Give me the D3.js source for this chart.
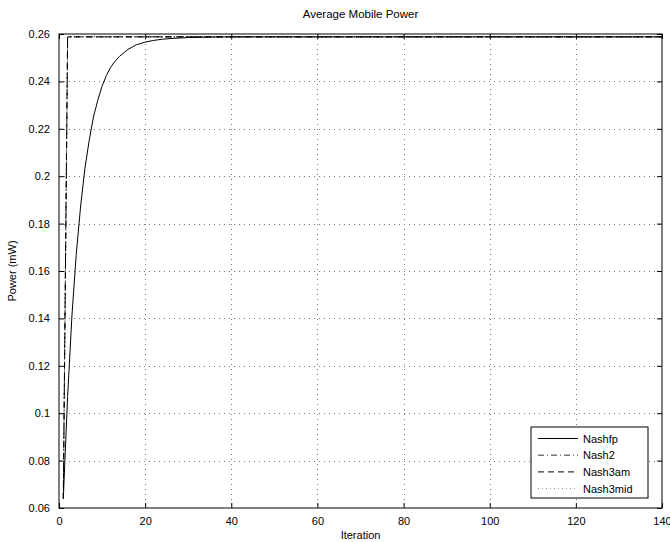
<!DOCTYPE html>
<html>
<head>
<meta charset="utf-8">
<script src="https://cdn.jsdelivr.net/npm/d3@7"></script>
<style>
  body { margin: 0; background: #fff; }
  text { font-family: "Liberation Sans", Arial, sans-serif; }
</style>
</head>
<body>
<div id="chart"></div>
<script>
// iterations and values
const fpIter  = [1, 2, 3, 4, 5, 6, 7, 8, 9, 10, 11, 12, 13, 14, 15, 16, 17, 18, 19, 20, 22, 24, 26, 28, 30, 35, 40, 140];
const fpPower = [0.064, 0.107, 0.141, 0.167, 0.187, 0.203, 0.215, 0.225, 0.232, 0.238, 0.2425, 0.246, 0.2485, 0.2505,
                 0.252, 0.2535, 0.2545, 0.2555, 0.256, 0.2566, 0.2573, 0.2578, 0.2581, 0.2583, 0.2585, 0.2587, 0.2588, 0.2588];
const n2Iter    = [1, 2, 140];
const n2Power   = [0.064, 0.2588, 0.2588];
const n3amIter  = [1, 2, 140];
const n3amPower = [0.064, 0.2588, 0.2588];
const n3midIter  = [1, 2, 140];
const n3midPower = [0.064, 0.2588, 0.2588];

const seriesNames = ['Nashfp', 'Nash2', 'Nash3am', 'Nash3mid'];
const xTicks = [0, 20, 40, 60, 80, 100, 120, 140];
const yTicks = [0.06, 0.08, 0.1, 0.12, 0.14, 0.16, 0.18, 0.2, 0.22, 0.24, 0.26];

const W = 670, H = 542;
const margin = {top: 34, right: 8, bottom: 34, left: 59};
const width = W - margin.left - margin.right;
const height = H - margin.top - margin.bottom;

const svg = d3.select('#chart').append('svg')
    .attr('width', W)
    .attr('height', H);

const g = svg.append('g')
    .attr('transform', `translate(${margin.left},${margin.top})`);

const x = d3.scaleLinear().domain([0, 140]).range([0, width]);
const y = d3.scaleLinear().domain([0.06, 0.26]).range([height, 0]);

// dotted grid
g.append('g').selectAll('line')
    .data(xTicks.slice(1, -1))
    .enter().append('line')
    .attr('x1', d => Math.round(x(d)) + 0.5).attr('x2', d => Math.round(x(d)) + 0.5)
    .attr('y1', 0).attr('y2', height)
    .attr('stroke', '#777').attr('stroke-width', 1)
    .attr('stroke-dasharray', '1,4');

g.append('g').selectAll('line')
    .data(yTicks.slice(1, -1))
    .enter().append('line')
    .attr('y1', d => Math.round(y(d)) + 0.5).attr('y2', d => Math.round(y(d)) + 0.5)
    .attr('x1', 0).attr('x2', width)
    .attr('stroke', '#777').attr('stroke-width', 1)
    .attr('stroke-dasharray', '1,4');

// axes, ticks inward
const fmt = d => String(+d.toFixed(2));
g.append('g')
    .attr('transform', `translate(0,${height})`)
    .call(d3.axisBottom(x).tickValues(xTicks).tickSize(-5).tickPadding(9).tickFormat(d3.format('d')));
g.append('g')
    .call(d3.axisTop(x).tickValues(xTicks).tickSize(-5).tickFormat(''));
g.append('g')
    .call(d3.axisLeft(y).tickValues(yTicks).tickSize(-5).tickPadding(9).tickFormat(fmt));
g.append('g')
    .attr('transform', `translate(${width},0)`)
    .call(d3.axisRight(y).tickValues(yTicks).tickSize(-5).tickFormat(''));

g.selectAll('.domain').remove();
g.selectAll('.tick line').attr('stroke', '#000');
g.selectAll('.tick text')
    .attr('fill', '#000')
    .style('font-size', '11px')
    .style('font-family', '"Liberation Sans", Arial, sans-serif');

g.append('rect')
    .attr('x', 0).attr('y', 0)
    .attr('width', width).attr('height', height)
    .attr('fill', 'none')
    .attr('stroke', '#000')
    .attr('stroke-width', 1);

// lines
const series = [
    {name: seriesNames[0], xs: fpIter, ys: fpPower, dash: null, color: '#000'},
    {name: seriesNames[1], xs: n2Iter, ys: n2Power, dash: '6,3,1,3', color: '#000'},
    {name: seriesNames[2], xs: n3amIter, ys: n3amPower, dash: '6,4', color: '#000'},
    {name: seriesNames[3], xs: n3midIter, ys: n3midPower, dash: '1,3', color: '#000'}
];

const line = d3.line()
    .x(d => x(d[0]))
    .y(d => y(d[1]));

g.selectAll('path.series')
    .data(series)
    .enter().append('path')
    .attr('class', 'series')
    .attr('d', s => line(s.xs.map((v, i) => [v, s.ys[i]])))
    .attr('fill', 'none')
    .attr('stroke', s => s.color)
    .attr('stroke-width', 1)
    .attr('stroke-dasharray', s => s.dash);

// title and labels
svg.append('text')
    .attr('x', margin.left + width / 2)
    .attr('y', 18)
    .attr('text-anchor', 'middle')
    .style('font-size', '11.5px')
    .text('Average Mobile Power');

svg.append('text')
    .attr('x', margin.left + width / 2)
    .attr('y', 539)
    .attr('text-anchor', 'middle')
    .style('font-size', '11px')
    .text('Iteration');

svg.append('text')
    .attr('transform', `translate(16,${margin.top + height / 2}) rotate(-90)`)
    .attr('text-anchor', 'middle')
    .style('font-size', '11px')
    .text('Power (mW)');

// legend
const legend = svg.append('g').attr('transform', 'translate(531,427)');
legend.append('rect')
    .attr('x', 0).attr('y', 0)
    .attr('width', 117).attr('height', 71)
    .attr('fill', '#fff')
    .attr('stroke', '#000');

const legendColors = ['#000', '#777', '#000', '#999'];
const item = legend.selectAll('g.item')
    .data(series)
    .enter().append('g')
    .attr('class', 'item')
    .attr('transform', (d, i) => `translate(0,${11 + i * 16.7})`);

item.append('line')
    .attr('x1', 7).attr('x2', 47)
    .attr('y1', 0.5).attr('y2', 0.5)
    .attr('stroke', (d, i) => legendColors[i])
    .attr('stroke-width', (d, i) => i === 1 ? 1.5 : 1)
    .attr('stroke-dasharray', d => d.dash);

item.append('text')
    .attr('x', 52)
    .attr('y', 4.5)
    .style('font-size', '11px')
    .text(d => d.name);
</script>
</body>
</html>
